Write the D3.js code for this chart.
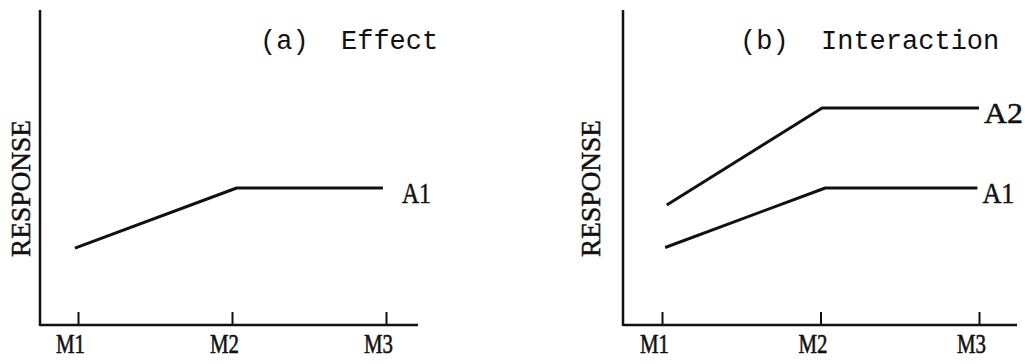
<!DOCTYPE html>
<html>
<head>
<meta charset="utf-8">
<script src="https://cdn.jsdelivr.net/npm/d3@7"></script>
<style>
  html, body { margin: 0; padding: 0; background: #fff; }
  svg { display: block; }
</style>
</head>
<body>
<svg id="chart" width="1025" height="364"></svg>
<script>
// Factor levels along the x axis
const categories = ["M1", "M2", "M3"];
const categoryPositions = [1, 2, 3];

// Panel titles and axis title
const panelTitles = ["(a)  Effect", "(b)  Interaction"];
const yAxisTitle = "RESPONSE";

// Panel (a): single response line
const effectA1X = [0.98, 2.03, 2.98];
const effectA1Y = [24.4, 43.5, 43.5];

// Panel (b): two response lines
const interA1X = [1.02, 2.03, 2.99];
const interA1Y = [24.6, 43.5, 43.5];
const interA2X = [1.03, 2.01, 3.0];
const interA2Y = [38.1, 68.9, 68.9];

const seriesNames = ["A1", "A2"];

// Layout of each panel (pixels)
const panels = [
  { title: panelTitles[0], left: 40, right: 418, top: 10, bottom: 325,
    tickStart: 78, tickEnd: 386, titleX: 260, yLabelX: 30, labelGap: 19,
    series: [{ name: seriesNames[0], xs: effectA1X, ys: effectA1Y, lw: 29 }] },
  { title: panelTitles[1], left: 623, right: 1017, top: 10, bottom: 325,
    tickStart: 662, tickEnd: 979, titleX: 740, yLabelX: 600, labelGap: 5,
    series: [{ name: seriesNames[1], xs: interA2X, ys: interA2Y, lw: 39 },
             { name: seriesNames[0], xs: interA1X, ys: interA1Y, lw: 32 }] }
];

const svg = d3.select("#chart");
const ink = "#111";
const serif = "'Liberation Serif', 'Times New Roman', serif";

panels.forEach(p => {
  const g = svg.append("g");

  const x = d3.scaleLinear().domain([1, 3]).range([p.tickStart, p.tickEnd]);
  const y = d3.scaleLinear().domain([0, 100]).range([p.bottom, p.top]);

  // y axis line
  g.append("line")
    .attr("x1", p.left).attr("x2", p.left)
    .attr("y1", p.top).attr("y2", p.bottom + 1)
    .attr("stroke", ink).attr("stroke-width", 2.5);

  // x axis baseline
  g.append("line")
    .attr("x1", p.left).attr("x2", p.right)
    .attr("y1", p.bottom).attr("y2", p.bottom)
    .attr("stroke", ink).attr("stroke-width", 2.5);

  // x axis ticks (pointing up) and category labels
  const axis = d3.axisBottom(x)
    .tickValues(categoryPositions)
    .tickFormat((d, i) => categories[i])
    .tickSizeInner(-13)
    .tickSizeOuter(0);

  const ax = g.append("g")
    .attr("transform", `translate(0,${p.bottom})`)
    .call(axis);
  ax.select(".domain").remove();
  ax.selectAll(".tick line").attr("stroke", ink).attr("stroke-width", 2);
  ax.selectAll(".tick text")
    .attr("y", 28).attr("dy", 0).attr("dx", -8)
    .attr("fill", ink)
    .attr("stroke", ink).attr("stroke-width", 0.6)
    .style("font-family", serif)
    .style("font-size", "28px")
    .attr("textLength", 29)
    .attr("lengthAdjust", "spacingAndGlyphs");

  // y axis title
  g.append("text")
    .attr("transform", `translate(${p.yLabelX},${(p.top + p.bottom) / 2 + 21}) rotate(-90)`)
    .attr("text-anchor", "middle")
    .attr("fill", ink)
    .attr("stroke", ink).attr("stroke-width", 0.5)
    .style("font-family", serif)
    .style("font-size", "28px")
    .attr("textLength", 137)
    .attr("lengthAdjust", "spacingAndGlyphs")
    .text(yAxisTitle);

  // panel title
  g.append("text")
    .attr("x", p.titleX).attr("y", 49)
    .attr("fill", ink)
    .style("font-family", "'Liberation Mono', 'Courier New', monospace")
    .style("font-size", "27px")
    .style("white-space", "pre")
    .attr("xml:space", "preserve")
    .text(p.title);

  // response lines
  const line = d3.line().x(d => x(d[0])).y(d => y(d[1]));
  p.series.forEach(s => {
    const pts = s.xs.map((v, i) => [v, s.ys[i]]);
    g.append("path")
      .datum(pts)
      .attr("d", line)
      .attr("fill", "none")
      .attr("stroke", ink)
      .attr("stroke-width", 3)
      .attr("stroke-linejoin", "round");

    const last = pts[pts.length - 1];
    g.append("text")
      .attr("x", x(last[0]) + p.labelGap)
      .attr("y", y(last[1]) + 15)
      .attr("fill", ink)
      .attr("stroke", ink).attr("stroke-width", 0.5)
      .style("font-family", serif)
      .style("font-size", "30px")
      .attr("textLength", s.lw)
      .attr("lengthAdjust", "spacingAndGlyphs")
      .text(s.name);
  });
});
</script>
</body>
</html>
